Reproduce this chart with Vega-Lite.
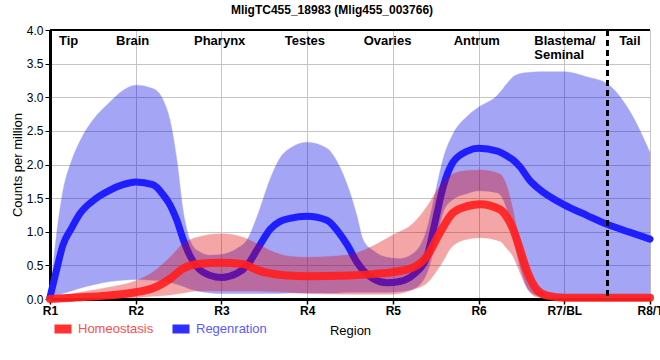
{
  "$schema": "https://vega.github.io/schema/vega-lite/v6.json",
  "autosize": {"type": "none"},
  "padding": {"left": 50, "top": 30, "right": 10, "bottom": 61},
  "width": 600,
  "height": 269,
  "background": "white",
  "title": {"text": "MligTC455_18983 (Mlig455_003766)", "font": "Liberation Sans", "fontSize": 12, "fontWeight": "bold", "color": "black", "anchor": "middle", "dx": -18, "offset": 7},
  "config": {
    "view": {"stroke": null},
    "font": "Liberation Sans",
    "axis": {"gridColor": "#c4c4c4", "gridWidth": 1, "gridOpacity": 1, "domainColor": "black", "tickColor": "black", "labelColor": "black", "titleColor": "black", "labelFont": "Liberation Sans", "titleFont": "Liberation Sans", "titleFontWeight": "normal", "titleFontSize": 13},
    "axisY": {"format": ".1f", "labelFontSize": 12, "labelOverlap": false, "labelFlush": false, "domainWidth": 3, "tickSize": 5, "tickWidth": 1, "labelPadding": 2, "titlePadding": 2}
  },
  "datasets": {
    "d": [
      {"s": "Regenration", "x": 1.0, "m": 0.03, "lo": 0.02, "hi": 0.04},
      {"s": "Regenration", "x": 1.08, "m": 0.45, "lo": 0.05, "hi": 1.0},
      {"s": "Regenration", "x": 1.15, "m": 0.8, "lo": 0.08, "hi": 1.6},
      {"s": "Regenration", "x": 1.25, "m": 1.05, "lo": 0.12, "hi": 2.05},
      {"s": "Regenration", "x": 1.35, "m": 1.27, "lo": 0.16, "hi": 2.35},
      {"s": "Regenration", "x": 1.5, "m": 1.46, "lo": 0.21, "hi": 2.66},
      {"s": "Regenration", "x": 1.7, "m": 1.62, "lo": 0.26, "hi": 2.93},
      {"s": "Regenration", "x": 1.85, "m": 1.7, "lo": 0.28, "hi": 3.1},
      {"s": "Regenration", "x": 2.0, "m": 1.74, "lo": 0.29, "hi": 3.18},
      {"s": "Regenration", "x": 2.2, "m": 1.7, "lo": 0.28, "hi": 3.13},
      {"s": "Regenration", "x": 2.32, "m": 1.55, "lo": 0.27, "hi": 2.96},
      {"s": "Regenration", "x": 2.4, "m": 1.4, "lo": 0.25, "hi": 2.66},
      {"s": "Regenration", "x": 2.48, "m": 1.17, "lo": 0.22, "hi": 2.07},
      {"s": "Regenration", "x": 2.55, "m": 0.9, "lo": 0.19, "hi": 1.34},
      {"s": "Regenration", "x": 2.63, "m": 0.65, "lo": 0.15, "hi": 0.89},
      {"s": "Regenration", "x": 2.72, "m": 0.47, "lo": 0.12, "hi": 0.72},
      {"s": "Regenration", "x": 2.87, "m": 0.35, "lo": 0.09, "hi": 0.65},
      {"s": "Regenration", "x": 3.0, "m": 0.32, "lo": 0.08, "hi": 0.66},
      {"s": "Regenration", "x": 3.18, "m": 0.38, "lo": 0.08, "hi": 0.75},
      {"s": "Regenration", "x": 3.3, "m": 0.5, "lo": 0.08, "hi": 0.88},
      {"s": "Regenration", "x": 3.42, "m": 0.74, "lo": 0.08, "hi": 1.24},
      {"s": "Regenration", "x": 3.57, "m": 1.04, "lo": 0.08, "hi": 1.79},
      {"s": "Regenration", "x": 3.68, "m": 1.15, "lo": 0.08, "hi": 2.09},
      {"s": "Regenration", "x": 3.8, "m": 1.2, "lo": 0.09, "hi": 2.24},
      {"s": "Regenration", "x": 4.0, "m": 1.23, "lo": 0.09, "hi": 2.33},
      {"s": "Regenration", "x": 4.23, "m": 1.17, "lo": 0.09, "hi": 2.24},
      {"s": "Regenration", "x": 4.35, "m": 1.02, "lo": 0.09, "hi": 2.04},
      {"s": "Regenration", "x": 4.47, "m": 0.8, "lo": 0.1, "hi": 1.69},
      {"s": "Regenration", "x": 4.58, "m": 0.55, "lo": 0.1, "hi": 1.24},
      {"s": "Regenration", "x": 4.65, "m": 0.43, "lo": 0.1, "hi": 0.89},
      {"s": "Regenration", "x": 4.77, "m": 0.3, "lo": 0.1, "hi": 0.72},
      {"s": "Regenration", "x": 4.93, "m": 0.24, "lo": 0.1, "hi": 0.62},
      {"s": "Regenration", "x": 5.08, "m": 0.26, "lo": 0.11, "hi": 0.6},
      {"s": "Regenration", "x": 5.24, "m": 0.36, "lo": 0.15, "hi": 0.68},
      {"s": "Regenration", "x": 5.4, "m": 0.64, "lo": 0.39, "hi": 1.05},
      {"s": "Regenration", "x": 5.49, "m": 1.13, "lo": 0.8, "hi": 1.55},
      {"s": "Regenration", "x": 5.59, "m": 1.68, "lo": 1.3, "hi": 2.1},
      {"s": "Regenration", "x": 5.7, "m": 2.03, "lo": 1.48, "hi": 2.45},
      {"s": "Regenration", "x": 5.87, "m": 2.2, "lo": 1.57, "hi": 2.72},
      {"s": "Regenration", "x": 6.0, "m": 2.24, "lo": 1.61, "hi": 2.85},
      {"s": "Regenration", "x": 6.22, "m": 2.2, "lo": 1.58, "hi": 3.03},
      {"s": "Regenration", "x": 6.33, "m": 2.13, "lo": 1.33, "hi": 3.2},
      {"s": "Regenration", "x": 6.4, "m": 2.07, "lo": 0.94, "hi": 3.3},
      {"s": "Regenration", "x": 6.48, "m": 1.97, "lo": 0.49, "hi": 3.35},
      {"s": "Regenration", "x": 6.6, "m": 1.76, "lo": 0.11, "hi": 3.37},
      {"s": "Regenration", "x": 6.72, "m": 1.62, "lo": 0.04, "hi": 3.38},
      {"s": "Regenration", "x": 7.0, "m": 1.4, "lo": 0.03, "hi": 3.38},
      {"s": "Regenration", "x": 7.27, "m": 1.24, "lo": 0.03, "hi": 3.3},
      {"s": "Regenration", "x": 7.5, "m": 1.11, "lo": 0.03, "hi": 3.2},
      {"s": "Regenration", "x": 7.77, "m": 0.99, "lo": 0.03, "hi": 2.78},
      {"s": "Regenration", "x": 8.0, "m": 0.89, "lo": 0.03, "hi": 2.18},
      {"s": "Homeostasis", "x": 1.0, "m": 0.0, "lo": 0.0, "hi": 0.01},
      {"s": "Homeostasis", "x": 1.27, "m": 0.02, "lo": 0.0, "hi": 0.08},
      {"s": "Homeostasis", "x": 1.67, "m": 0.05, "lo": 0.01, "hi": 0.17},
      {"s": "Homeostasis", "x": 2.0, "m": 0.1, "lo": 0.02, "hi": 0.27},
      {"s": "Homeostasis", "x": 2.2, "m": 0.16, "lo": 0.04, "hi": 0.4},
      {"s": "Homeostasis", "x": 2.4, "m": 0.3, "lo": 0.06, "hi": 0.62},
      {"s": "Homeostasis", "x": 2.55, "m": 0.45, "lo": 0.09, "hi": 0.82},
      {"s": "Homeostasis", "x": 2.72, "m": 0.52, "lo": 0.12, "hi": 0.92},
      {"s": "Homeostasis", "x": 3.0, "m": 0.54, "lo": 0.12, "hi": 0.97},
      {"s": "Homeostasis", "x": 3.25, "m": 0.52, "lo": 0.12, "hi": 0.92},
      {"s": "Homeostasis", "x": 3.42, "m": 0.43, "lo": 0.12, "hi": 0.82},
      {"s": "Homeostasis", "x": 3.57, "m": 0.38, "lo": 0.11, "hi": 0.72},
      {"s": "Homeostasis", "x": 3.77, "m": 0.35, "lo": 0.1, "hi": 0.64},
      {"s": "Homeostasis", "x": 4.0, "m": 0.34, "lo": 0.08, "hi": 0.62},
      {"s": "Homeostasis", "x": 4.5, "m": 0.35, "lo": 0.07, "hi": 0.66},
      {"s": "Homeostasis", "x": 4.77, "m": 0.37, "lo": 0.07, "hi": 0.79},
      {"s": "Homeostasis", "x": 5.0, "m": 0.4, "lo": 0.07, "hi": 0.95},
      {"s": "Homeostasis", "x": 5.24, "m": 0.47, "lo": 0.14, "hi": 1.13},
      {"s": "Homeostasis", "x": 5.4, "m": 0.64, "lo": 0.24, "hi": 1.38},
      {"s": "Homeostasis", "x": 5.55, "m": 0.99, "lo": 0.49, "hi": 1.68},
      {"s": "Homeostasis", "x": 5.7, "m": 1.28, "lo": 0.79, "hi": 1.86},
      {"s": "Homeostasis", "x": 5.87, "m": 1.38, "lo": 0.89, "hi": 1.91},
      {"s": "Homeostasis", "x": 6.02, "m": 1.41, "lo": 0.91, "hi": 1.92},
      {"s": "Homeostasis", "x": 6.25, "m": 1.33, "lo": 0.86, "hi": 1.86},
      {"s": "Homeostasis", "x": 6.33, "m": 1.22, "lo": 0.75, "hi": 1.68},
      {"s": "Homeostasis", "x": 6.4, "m": 1.05, "lo": 0.64, "hi": 1.33},
      {"s": "Homeostasis", "x": 6.48, "m": 0.75, "lo": 0.4, "hi": 0.84},
      {"s": "Homeostasis", "x": 6.57, "m": 0.4, "lo": 0.15, "hi": 0.44},
      {"s": "Homeostasis", "x": 6.68, "m": 0.14, "lo": 0.03, "hi": 0.17},
      {"s": "Homeostasis", "x": 6.8, "m": 0.05, "lo": 0.01, "hi": 0.06},
      {"s": "Homeostasis", "x": 7.0, "m": 0.02, "lo": 0.01, "hi": 0.04},
      {"s": "Homeostasis", "x": 8.0, "m": 0.02, "lo": 0.01, "hi": 0.04}
    ],
    "regions": [
      {"t": "Tip", "x": 1.105},
      {"t": "Brain", "x": 1.77},
      {"t": "Pharynx", "x": 2.68},
      {"t": "Testes", "x": 3.74},
      {"t": "Ovaries", "x": 4.66},
      {"t": "Antrum", "x": 5.71},
      {"t": "Blastema/\nSeminal", "x": 6.65},
      {"t": "Tail", "x": 7.64}
    ]
  },
  "data": {"name": "d"},
  "layer": [
    {
      "transform": [{"filter": "datum.s == 'Regenration'"}],
      "mark": {"type": "area", "interpolate": "monotone", "color": "#0000e8", "opacity": 0.35, "stroke": "#0000e8", "strokeWidth": 1, "strokeOpacity": 0.4},
      "encoding": {
        "x": {"field": "x", "type": "quantitative", "title": "Region",
          "scale": {"domain": [1, 8], "nice": false, "zero": false},
          "axis": {"values": [1, 2, 3, 4, 5, 6, 7, 8], "labelExpr": "['R1','R2','R3','R4','R5','R6','R7/BL','R8/T'][datum.value - 1]", "labelFontWeight": "bold", "labelFontSize": 12, "domainWidth": 3, "tickSize": 5, "tickWidth": 1.5, "labelPadding": 1, "titlePadding": 8, "labelFlush": false, "labelOverlap": false}},
        "y": {"field": "lo", "type": "quantitative", "title": "Counts per million",
          "scale": {"domain": [0, 4], "nice": false},
          "axis": {"values": [0, 0.5, 1, 1.5, 2, 2.5, 3, 3.5, 4], "grid": true}},
        "y2": {"field": "hi"}
      }
    },
    {
      "transform": [{"filter": "datum.s == 'Regenration'"}],
      "mark": {"type": "line", "interpolate": "monotone", "strokeWidth": 7, "strokeCap": "round"},
      "encoding": {
        "x": {"field": "x", "type": "quantitative"},
        "y": {"field": "m", "type": "quantitative", "axis": {"values": [0, 0.5, 1, 1.5, 2, 2.5, 3, 3.5, 4], "grid": true}},
        "color": {"field": "s", "type": "nominal",
          "scale": {"domain": ["Homeostasis", "Regenration"], "range": ["#ff2020", "#1e1eff"]},
          "legend": {"orient": "none", "legendX": 0, "legendY": 286, "direction": "horizontal", "title": null, "symbolType": "stroke", "symbolStrokeWidth": 9, "symbolSize": 289, "labelFontSize": 13, "labelFont": "Liberation Sans", "columnPadding": 0, "labelOffset": 2, "labelColor": {"expr": "datum.label == 'Homeostasis' ? '#ff4d4d' : '#5a5aff'"}}}
      }
    },
    {
      "transform": [{"filter": "datum.s == 'Homeostasis'"}],
      "mark": {"type": "area", "interpolate": "monotone", "color": "#e00000", "opacity": 0.35, "stroke": "#e00000", "strokeWidth": 1, "strokeOpacity": 0.4},
      "encoding": {
        "x": {"field": "x", "type": "quantitative"},
        "y": {"field": "lo", "type": "quantitative", "axis": {"values": [0, 0.5, 1, 1.5, 2, 2.5, 3, 3.5, 4], "grid": true}},
        "y2": {"field": "hi"}
      }
    },
    {
      "transform": [{"filter": "datum.s == 'Homeostasis'"}],
      "mark": {"type": "line", "interpolate": "monotone", "strokeWidth": 8, "strokeCap": "round", "opacity": 0.92},
      "encoding": {
        "x": {"field": "x", "type": "quantitative"},
        "y": {"field": "m", "type": "quantitative", "axis": {"values": [0, 0.5, 1, 1.5, 2, 2.5, 3, 3.5, 4], "grid": true}},
        "color": {"field": "s", "type": "nominal"}
      }
    },
    {
      "mark": {"type": "rule", "color": "black", "strokeWidth": 2, "strokeDash": [6, 4]},
      "encoding": {"x": {"datum": 7.5, "type": "quantitative"}}
    },
    {
      "mark": {"type": "rule", "color": "black", "strokeWidth": 2},
      "encoding": {"y": {"datum": 4, "type": "quantitative", "axis": {"values": [0, 0.5, 1, 1.5, 2, 2.5, 3, 3.5, 4], "grid": true}}}
    },
    {
      "data": {"name": "regions"},
      "mark": {"type": "text", "align": "left", "baseline": "alphabetic", "font": "Liberation Sans", "fontSize": 13, "fontWeight": "bold", "color": "black", "lineBreak": "\n", "lineHeight": 14},
      "encoding": {
        "x": {"field": "x", "type": "quantitative"},
        "y": {"datum": 3.78, "type": "quantitative", "axis": {"values": [0, 0.5, 1, 1.5, 2, 2.5, 3, 3.5, 4], "grid": true}},
        "text": {"field": "t"}
      }
    }
  ]
}
